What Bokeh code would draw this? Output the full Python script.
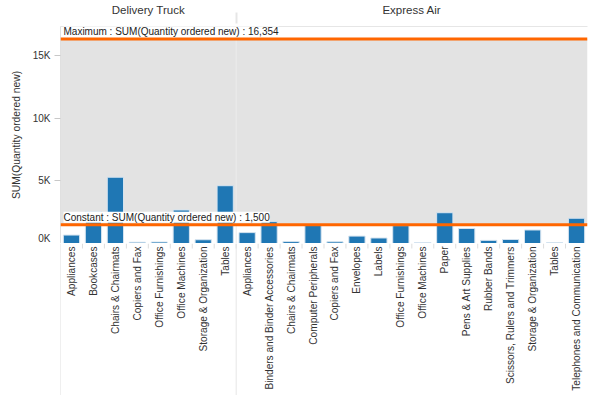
import math
from bokeh.plotting import figure
from bokeh.layouts import column
from bokeh.core.properties import value
from bokeh.models import (FactorRange, Range1d, Span, Label, BoxAnnotation,
                          FixedTicker, CategoricalAxis, ColumnDataSource)
from bokeh.embed import file_html
from bokeh.resources import INLINE

# ---------------- data ----------------
ship_modes = ["Delivery Truck", "Express Air"]
delivery_truck_categories = ["Appliances", "Bookcases", "Chairs & Chairmats",
                             "Copiers and Fax", "Office Furnishings",
                             "Office Machines", "Storage & Organization", "Tables"]
delivery_truck_values = [674, 2560, 5300, 100, 120, 2680, 300, 4620]
express_air_categories = ["Appliances", "Binders and Binder Accessories",
                          "Chairs & Chairmats", "Computer Peripherals",
                          "Copiers and Fax", "Envelopes", "Labels",
                          "Office Furnishings", "Office Machines", "Paper",
                          "Pens & Art Supplies", "Rubber Bands",
                          "Scissors, Rulers and Trimmers",
                          "Storage & Organization", "Tables",
                          "Telephones and Communication"]
express_air_values = [870, 1750, 150, 1440, 130, 590, 440, 1430, 80, 2460,
                      1200, 250, 320, 1080, 60, 2020]
maximum_value = 16354
constant_value = 1500
y_ticks = [0, 5000, 10000, 15000]
y_tick_labels = ["0K", "5K", "10K", "15K"]
measure_name = "SUM(Quantity ordered new)"
y_max = 17350

# ---------------- build ----------------
factors = ([(ship_modes[0], c) for c in delivery_truck_categories] +
           [(ship_modes[1], c) for c in express_air_categories])
categories = delivery_truck_categories + express_air_categories
values = delivery_truck_values + express_air_values
n_dt = len(delivery_truck_categories)
n_all = len(categories)

FONT = "Liberation Sans"
TXT = "#333333"
LEFT = 60
RIGHT = 2
W = 589
TOP_H = 243
LABEL_H = 152

xr = FactorRange(*factors, factor_padding=0, group_padding=0,
                 subgroup_padding=0, range_padding=0)

p = figure(x_range=xr, y_range=Range1d(0, y_max),
           width=W, height=TOP_H, output_backend="svg", toolbar_location=None,
           min_border_left=LEFT, min_border_right=RIGHT, min_border_top=18,
           min_border_bottom=0)
p.xgrid.visible = False
p.ygrid.visible = False
p.outline_line_color = None
p.background_fill_color = "white"
p.border_fill_color = "white"
p.xaxis[0].visible = False

# band between constant and maximum
p.add_layout(BoxAnnotation(bottom=constant_value, top=maximum_value,
                           fill_color="#e3e3e3", fill_alpha=1,
                           line_color=None, level="underlay"))
p.add_layout(Span(location=n_dt, dimension="height",
                  line_color="#ececec", line_width=1, level="underlay"))

p.vbar(x=factors, top=values, width=0.74, fill_color="#1f77b4",
       line_color="#d6e4f0", line_width=1)

# reference lines
for v in (maximum_value, constant_value):
    p.add_layout(Span(location=v, dimension="width", line_color="#ff6600",
                      line_width=3))

p.add_layout(Label(x=0, y=maximum_value, x_offset=3, y_offset=2,
                   text=f"Maximum : {measure_name} : {maximum_value:,}",
                   text_font=FONT, text_font_size="10px", text_color="#222222",
                   text_baseline="bottom", background_fill_color="white",
                   background_fill_alpha=1))
p.add_layout(Label(x=0, y=constant_value, x_offset=3, y_offset=2,
                   text=f"Constant : {measure_name} : {constant_value:,}",
                   text_font=FONT, text_font_size="10px", text_color="#222222",
                   text_baseline="bottom", background_fill_color="white",
                   background_fill_alpha=1))

# header axis (ship mode)
ta = CategoricalAxis()
ta.major_label_text_font_size = "0px"
ta.major_label_text_alpha = 0
ta.major_label_standoff = 5
ta.major_tick_line_color = None
ta.axis_line_color = "#e6e6e6"
ta.group_text_font = FONT
ta.group_text_font_size = "11.5px"
ta.group_text_color = TXT
ta.group_text_font_style = "normal"
ta.separator_line_color = "#e6e6e6"
p.add_layout(ta, "above")

# y axis
ya = p.yaxis[0]
ya.ticker = FixedTicker(ticks=y_ticks)
ya.major_label_overrides = dict(zip(y_ticks, y_tick_labels))
ya.major_label_text_font = FONT
ya.major_label_text_font_size = "10px"
ya.major_label_text_color = TXT
ya.axis_line_color = "#e0e0e0"
ya.minor_tick_line_color = None
ya.major_tick_line_color = "#c8c8c8"
ya.major_tick_out = 6
ya.major_tick_in = 0
ya.major_label_standoff = 4
ya.axis_label = measure_name
ya.axis_label_text_font = FONT
ya.axis_label_text_font_size = "10.3px"
ya.axis_label_text_font_style = "normal"
ya.axis_label_text_color = TXT
ya.axis_label_standoff = 8

# ---------------- category label strip ----------------
q = figure(x_range=xr, y_range=Range1d(0, LABEL_H),
           width=W, height=LABEL_H, output_backend="svg", toolbar_location=None,
           min_border_left=LEFT, min_border_right=RIGHT, min_border_top=0,
           min_border_bottom=0)
q.xaxis.visible = False
q.yaxis.visible = False
q.xgrid.visible = False
q.ygrid.visible = False
q.outline_line_color = None
q.background_fill_color = "white"
q.border_fill_color = "white"

lsrc = ColumnDataSource(data=dict(x=factors, name=categories,
                                  y=[LABEL_H] * n_all))
q.text(x="x", y="y", text="name", source=lsrc, angle=math.pi / 2,
       y_offset=3, text_align="right", text_baseline="middle",
       text_font=value(FONT), text_font_size=value("10.1px"), text_color=TXT)

# short separators between categories, full lines at pane borders
bounds = list(range(1, n_all))
q.segment(x0=bounds, x1=bounds, y0=[LABEL_H] * len(bounds),
          y1=[LABEL_H - 5] * len(bounds), line_color="#dddddd", line_width=1)
q.add_layout(Span(location=0, dimension="height", line_color="#e0e0e0",
                  line_width=1))
q.add_layout(Span(location=n_dt, dimension="height", line_color="#e6e6e6",
                  line_width=1))

layout = column(p, q, spacing=0)
open("out.html", "w").write(file_html(layout, INLINE))
